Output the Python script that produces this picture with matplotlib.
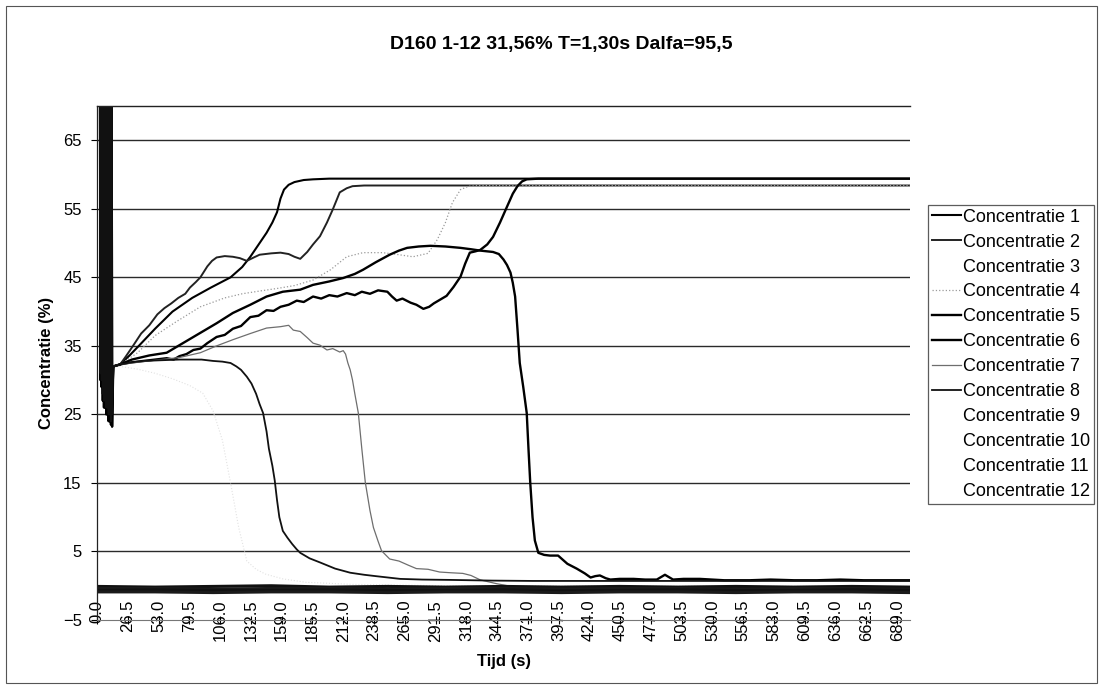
import matplotlib
matplotlib.use("Agg")
import matplotlib.pyplot as plt
from matplotlib.patches import Rectangle

plt.rcParams["font.family"] = ["Liberation Sans", "DejaVu Sans"]

TITLE = "D160 1-12 31,56% T=1,30s Dalfa=95,5"
X_TICKS = [0.0, 26.5, 53.0, 79.5, 106.0, 132.5, 159.0, 185.5, 212.0, 238.5, 265.0,
           291.5, 318.0, 344.5, 371.0, 397.5, 424.0, 450.5, 477.0, 503.5, 530.0,
           556.5, 583.0, 609.5, 636.0, 662.5, 689.0]
Y_TICKS = [-5, 5, 15, 25, 35, 45, 55, 65]

# start-up transient (sensors saturate in the first seconds)
SPIKE_T = [2.5, 3.0, 3.5, 4.0, 4.5, 5.0, 5.5, 6.0, 6.5, 7.0, 7.5,
           8.0, 8.5, 9.0, 9.5, 10.0, 10.5, 11.0, 11.5, 12.0, 12.5, 13.0]
SPIKE_1 = [85, 31, 85, 29, 85, 28, 85, 27, 85, 26, 85, 26, 85, 25, 85, 25, 85, 24, 85, 24, 85, 25]
SPIKE_2 = [85, 32, 85, 30, 85, 29, 85, 28, 85, 27, 85, 27, 85, 26, 85, 26, 85, 25, 85, 25, 85, 26]
SPIKE_5 = [85, 30, 85, 29, 85, 27, 85, 26, 85, 26, 85, 25, 85, 25, 85, 24, 85, 24, 85, 23.5, 85, 23.2]
SPIKE_6 = [85, 33, 85, 31, 85, 30, 85, 29, 85, 28, 85, 28, 85, 27, 85, 27, 85, 26, 85, 26, 85, 27]
SPIKE_8 = [85, 31, 85, 30, 85, 28, 85, 27, 85, 27, 85, 26, 85, 26, 85, 25, 85, 25, 85, 24, 85, 25]

T1 = [14, 20, 28, 36, 50, 65, 82, 98, 115, 125, 132, 140, 146, 151, 155, 158, 161, 165,
      170, 178, 186, 200, 300, 400, 500, 600, 700]
C1 = [32.0, 32.3, 33.6, 35.0, 37.5, 40.0, 42.0, 43.5, 45.0, 46.5, 48.0, 50.0, 51.5, 53.0,
      54.5, 56.5, 57.8, 58.5, 58.9, 59.2, 59.3, 59.4, 59.4, 59.4, 59.4, 59.4, 59.4]

T2 = [14, 20, 25, 31, 38, 45, 52, 58, 64, 70, 76, 80, 85, 89, 95, 99, 103, 110, 117, 123,
      129, 135, 140, 150, 158, 165, 170, 175, 181, 186, 192, 198, 203, 209, 215, 220, 230,
      245, 300, 400, 500, 600, 700]
C2 = [32.0, 32.3, 33.5, 35.0, 36.8, 38.0, 39.6, 40.5, 41.2, 42.0, 42.6, 43.5, 44.3, 45.0,
      46.6, 47.4, 47.9, 48.1, 48.0, 47.8, 47.4, 47.9, 48.3, 48.5, 48.6, 48.4, 48.0, 47.7,
      48.7, 49.8, 51.0, 53.0, 54.9, 57.4, 58.0, 58.3, 58.4, 58.4, 58.4, 58.4, 58.4, 58.4, 58.4]

T3 = [14, 20, 35, 50, 65, 80, 91, 100, 108, 115, 122, 129, 137, 145, 160, 180, 220, 300, 700]
C3 = [32.0, 32.0, 31.6, 31.0, 30.2, 29.2, 28.1, 25.5, 21.2, 15.0, 8.5, 3.6, 2.4, 1.7, 1.0,
      0.5, 0.2, 0.0, -0.1]

T4 = [14, 20, 35, 50, 68, 89, 110, 125, 140, 156, 170, 186, 201, 215, 229, 246, 260, 272,
      285, 293, 300, 306, 313, 320, 330, 400, 500, 600, 700]
C4 = [32.0, 32.3, 34.0, 36.5, 38.5, 40.7, 42.0, 42.6, 43.0, 43.4, 43.8, 44.6, 46.1, 48.0,
      48.6, 48.6, 48.3, 48.0, 48.5, 50.5, 53.0, 55.9, 57.8, 58.3, 58.4, 58.4, 58.4, 58.4, 58.4]

T5 = [14, 20, 30, 45, 60, 75, 89, 103, 117, 132, 146, 160, 175, 186, 200, 212, 222, 229,
      240, 252, 260, 267, 277, 287, 300, 313, 322, 330, 341, 346, 350, 353, 356, 358, 360,
      362, 364, 367, 370, 371.5, 373, 375, 377, 380, 385, 390, 397, 405, 413, 420, 425,
      429, 433, 438, 442, 450, 462, 472, 482, 489, 496, 505, 519, 540, 562, 580, 600, 620,
      640, 660, 680, 700]
C5 = [32.0, 32.3, 33.0, 33.6, 34.0, 35.5, 36.9, 38.3, 39.8, 41.0, 42.2, 42.9, 43.2, 43.9,
      44.4, 44.9, 45.5, 46.1, 47.2, 48.3, 48.9, 49.3, 49.5, 49.6, 49.5, 49.3, 49.1, 48.9,
      48.7, 48.4, 47.6, 46.8, 45.7, 44.2, 42.2, 37.5, 32.5, 29.0, 25.2, 20.0, 15.1, 10.0,
      6.6, 4.8, 4.5, 4.4, 4.4, 3.2, 2.5, 1.8, 1.2, 1.4, 1.5, 1.1, 0.9, 1.0, 1.0, 0.9, 0.9,
      1.6, 0.9, 1.0, 1.0, 0.8, 0.8, 0.9, 0.8, 0.8, 0.9, 0.8, 0.8, 0.8]

T6 = [14, 20, 30, 40, 50, 60, 66, 71, 77, 83, 89, 95, 103, 110, 117, 124, 132, 139, 146,
      152, 158, 165, 172, 178, 186, 193, 200, 207, 215, 222, 228, 235, 242, 250, 254, 258,
      263, 270, 275, 281, 286, 290, 295, 301, 307, 313, 317, 321, 326, 330, 336, 341, 347,
      353, 358, 362, 366, 370, 380, 400, 500, 600, 700]
C6 = [32.0, 32.3, 32.6, 32.8, 33.0, 33.2, 33.0, 33.5, 33.8, 34.4, 34.6, 35.4, 36.3, 36.6,
      37.5, 37.9, 39.2, 39.4, 40.2, 40.1, 40.7, 41.0, 41.6, 41.4, 42.2, 41.9, 42.4, 42.2,
      42.7, 42.4, 42.9, 42.6, 43.1, 42.9, 42.2, 41.6, 41.9, 41.3, 41.0, 40.4, 40.7, 41.2,
      41.7, 42.3, 43.6, 45.1, 47.0, 48.6, 48.8, 49.0, 49.8, 50.9, 53.0, 55.3, 57.2, 58.3,
      59.0, 59.3, 59.4, 59.4, 59.4, 59.4, 59.4]

T7 = [14, 20, 35, 50, 71, 89, 103, 117, 132, 146, 158, 165, 169, 175, 181, 186, 192, 198,
      203, 209, 212, 214, 216, 218, 220, 222, 225, 228, 231, 235, 238, 242, 245, 252, 260,
      268, 275, 285, 295, 304, 315, 322, 330, 344, 360, 400, 500, 600, 700]
C7 = [32.0, 32.3, 32.6, 32.9, 33.3, 34.0, 35.0, 35.9, 36.8, 37.6, 37.8, 38.0, 37.3, 37.1,
      36.2, 35.4, 35.1, 34.4, 34.6, 34.1, 34.3, 33.8, 32.5, 31.5, 30.0, 28.0, 25.2, 20.0,
      15.1, 11.0, 8.5, 6.5, 5.1, 3.9, 3.6, 3.0, 2.5, 2.4, 2.0, 1.9, 1.8, 1.5, 0.85, 0.3,
      -0.2, -0.3, -0.3, -0.3, -0.3]

T8 = [14, 20, 30, 40, 55, 71, 90, 100, 108, 115, 120, 124, 129, 133, 137, 140, 143, 146,
      148, 151, 153, 155, 157, 160, 164, 168, 172, 175, 183, 192, 205, 218, 230, 240, 261,
      280, 304, 340, 375, 420, 500, 600, 700]
C8 = [32.0, 32.3, 32.6, 32.8, 32.9, 33.0, 33.0, 32.8, 32.7, 32.5, 32.0, 31.5, 30.5, 29.5,
      28.0, 26.5, 25.2, 22.5, 20.0, 17.5, 15.4, 12.5, 10.0, 8.0, 7.0, 6.1, 5.3, 4.8, 4.0,
      3.4, 2.5, 1.9, 1.6, 1.4, 1.0, 0.9, 0.85, 0.75, 0.7, 0.7, 0.7, 0.7, 0.7]

T_ZERO = [0, 50, 100, 150, 200, 250, 300, 350, 400, 450, 500, 550, 600, 650, 700]
C9 = [-0.1, -0.2, -0.1, 0.0, -0.2, -0.1, -0.2, -0.1, -0.2, -0.1, -0.2, -0.1, -0.2, -0.1, -0.2]
C10 = [-0.4, -0.4, -0.5, -0.4, -0.4, -0.5, -0.4, -0.4, -0.5, -0.4, -0.4, -0.5, -0.4, -0.4, -0.5]
C11 = [-0.7, -0.6, -0.7, -0.7, -0.6, -0.7, -0.7, -0.6, -0.7, -0.7, -0.6, -0.7, -0.7, -0.6, -0.7]
C12 = [-0.9, -0.9, -1.0, -0.9, -0.9, -1.0, -0.9, -0.9, -1.0, -0.9, -0.9, -1.0, -0.9, -0.9, -1.0]

series = [
    (SPIKE_T + T1, SPIKE_1 + C1, dict(color="black", lw=1.5)),
    (SPIKE_T + T2, SPIKE_2 + C2, dict(color="#222222", lw=1.4)),
    (T3, C3, dict(color="#e2e2e2", lw=0.8, ls=":")),
    (T4, C4, dict(color="#9a9a9a", lw=0.9, ls=":")),
    (SPIKE_T + T5, SPIKE_5 + C5, dict(color="black", lw=1.7)),
    (SPIKE_T + T6, SPIKE_6 + C6, dict(color="black", lw=1.7)),
    (T7, C7, dict(color="#6e6e6e", lw=0.9)),
    (SPIKE_T + T8, SPIKE_8 + C8, dict(color="#111111", lw=1.3)),
    (T_ZERO, C9, dict(color="#111111", lw=2.2)),
    (T_ZERO, C10, dict(color="#1a1a1a", lw=2.2)),
    (T_ZERO, C11, dict(color="#111111", lw=2.2)),
    (T_ZERO, C12, dict(color="#1a1a1a", lw=2.2)),
]

fig = plt.figure(figsize=(11.03, 6.89), dpi=100)
ax = fig.add_axes([97 / 1103, 1 - 620 / 689, (910 - 97) / 1103, (620 - 106) / 689])

for i, (t, c, style) in enumerate(series):
    ax.plot(t, c, label=f"Concentratie {i + 1}", **style)

ax.set_xlim(0, 700)
ax.set_ylim(-5, 70)
for y in Y_TICKS[1:]:
    ax.axhline(y, color="#2a2a2a", lw=1.0, zorder=0.5)

ax.set_yticks(Y_TICKS)
ax.set_xticks(X_TICKS)
ax.set_xticklabels([f"{v:.1f}" for v in X_TICKS], rotation=90)
ax.tick_params(axis="y", direction="out", length=4, width=0.8, pad=7, labelsize=12)
ax.tick_params(axis="x", direction="inout", length=6, width=0.8, pad=-17.5, labelsize=12)

ax.spines["right"].set_visible(False)
ax.spines["top"].set_color("#222222")
ax.spines["top"].set_linewidth(1.0)
ax.spines["left"].set_color("#222222")
ax.spines["left"].set_linewidth(0.9)
ax.spines["bottom"].set_color("#777777")
ax.spines["bottom"].set_linewidth(0.8)

ax.set_xlabel("Tijd (s)", fontsize=12, fontweight="bold", labelpad=9)
ax.set_ylabel("Concentratie (%)", fontsize=12, fontweight="bold", labelpad=6.5)
fig.text(561 / 1103, 1 - 45 / 689, TITLE, ha="center", va="center",
         fontsize=14, fontweight="bold")

leg = ax.legend(loc="upper right", bbox_to_anchor=(1094 / 1103, 1 - 205 / 689),
                bbox_transform=fig.transFigure, borderaxespad=0, fontsize=13,
                frameon=True, fancybox=False, handlelength=1.6, handletextpad=0.15,
                labelspacing=0.44, borderpad=0.2)
leg.get_frame().set_edgecolor("#333333")
leg.get_frame().set_linewidth(0.9)
for i in (2, 8, 9, 10, 11):
    leg.get_lines()[i].set_visible(False)

fig.patches.append(Rectangle((6 / 1103, 6 / 689), 1091 / 1103, 677 / 689,
                             transform=fig.transFigure, fill=False,
                             edgecolor="#555555", lw=0.8))

fig.savefig("out.png", dpi=100)
